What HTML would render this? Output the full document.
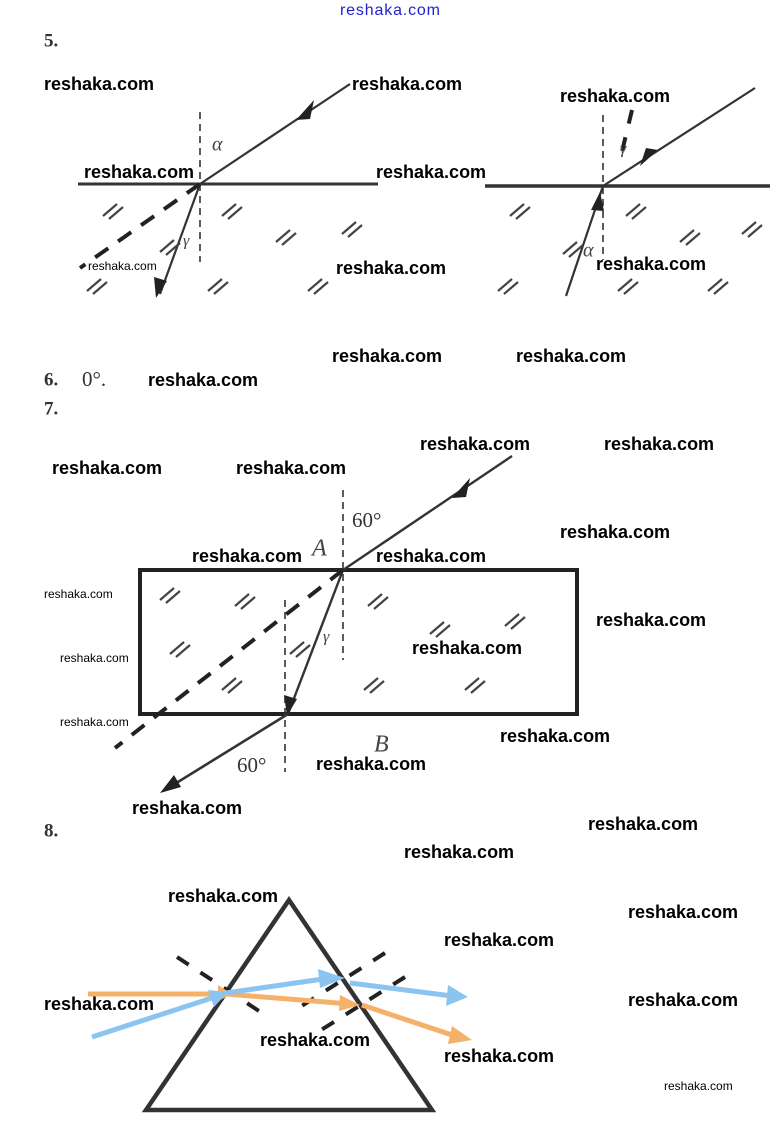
<!DOCTYPE html>
<html><head><meta charset="utf-8"><style>
html,body{margin:0;padding:0;background:#fff;}
svg{display:block}
.w{font-family:"Liberation Sans",sans-serif;font-weight:bold;font-size:18px;fill:#000;dominant-baseline:middle}
.s{font-size:12px;font-weight:normal}
.n{font-family:"Liberation Serif",serif;font-weight:bold;font-size:19px;fill:#333;dominant-baseline:middle}
.g{font-family:"Liberation Serif",serif;font-style:italic;font-size:20px;fill:#444;dominant-baseline:middle}
.r{font-family:"Liberation Serif",serif;font-size:21px;fill:#333;dominant-baseline:middle}
</style></head><body>
<svg width="778" height="1130" viewBox="0 0 778 1130" xmlns="http://www.w3.org/2000/svg">
<defs>
<g id="h" stroke="#444" stroke-width="2.2">
<line x1="-10" y1="6" x2="4" y2="-6"/><line x1="-4" y1="9" x2="10" y2="-3"/>
</g>
<marker id="a" viewBox="0 0 10 10" refX="5" refY="5" markerWidth="6" markerHeight="6" orient="auto"><path d="M0,0L10,5L0,10z" fill="#222"/></marker>
</defs>

<text x="340" y="11" style="font-family:'Liberation Sans Narrow','Liberation Sans',sans-serif;font-size:16px;fill:#22c;dominant-baseline:middle" textLength="100">reshaka.com</text>

<text class="n" x="44" y="42">5.</text>

<!-- Section 5 left -->
<line x1="78" y1="184" x2="378" y2="184" stroke="#333" stroke-width="3"/>
<line x1="200" y1="112" x2="200" y2="262" stroke="#333" stroke-width="1.6" stroke-dasharray="7,5"/>
<line x1="350" y1="84" x2="200" y2="184" stroke="#333" stroke-width="2.2"/>
<path d="M296,120 L314,100 L310,119 z" fill="#222"/>
<line x1="200" y1="184" x2="160" y2="294" stroke="#333" stroke-width="2.2"/>
<path d="M156,298 L154,277 L167,281 z" fill="#222"/>
<line x1="200" y1="184" x2="80" y2="268" stroke="#222" stroke-width="4" stroke-dasharray="16,12"/>
<text class="g" x="212" y="146">α</text>
<text class="g" x="183" y="242" style="font-size:16px">γ</text>
<use href="#h" x="113" y="210"/><use href="#h" x="170" y="246"/><use href="#h" x="232" y="210"/><use href="#h" x="286" y="236"/><use href="#h" x="352" y="228"/><use href="#h" x="97" y="285"/><use href="#h" x="218" y="285"/><use href="#h" x="318" y="285"/>

<!-- Section 5 right -->
<line x1="485" y1="186" x2="770" y2="186" stroke="#333" stroke-width="3.5"/>
<line x1="603" y1="115" x2="603" y2="260" stroke="#333" stroke-width="1.6" stroke-dasharray="7,5"/>
<line x1="603" y1="186" x2="755" y2="88" stroke="#333" stroke-width="2.2"/>
<path d="M658,150 L640,166 L646,148 z" fill="#222"/>
<line x1="566" y1="296" x2="603" y2="186" stroke="#333" stroke-width="2.2"/>
<path d="M600,192 L591,210 L604,211 z" fill="#222"/>
<line x1="632" y1="110" x2="620" y2="160" stroke="#222" stroke-width="4" stroke-dasharray="14,14"/>
<text class="g" x="620" y="150" style="font-size:16px">γ</text>
<text class="g" x="583" y="252">α</text>
<use href="#h" x="520" y="210"/><use href="#h" x="636" y="210"/><use href="#h" x="690" y="236"/><use href="#h" x="752" y="228"/><use href="#h" x="573" y="248"/><use href="#h" x="508" y="285"/><use href="#h" x="628" y="285"/><use href="#h" x="718" y="285"/>

<text class="n" x="44" y="381">6.</text>
<text class="r" x="82" y="381">0°.</text>
<text class="n" x="44" y="410">7.</text>

<!-- Section 7 -->
<rect x="140" y="570" width="437" height="144" fill="none" stroke="#222" stroke-width="4"/>
<line x1="343" y1="490" x2="343" y2="660" stroke="#333" stroke-width="1.6" stroke-dasharray="7,5"/>
<line x1="285" y1="600" x2="285" y2="772" stroke="#333" stroke-width="1.6" stroke-dasharray="7,5"/>
<line x1="512" y1="456" x2="343" y2="570" stroke="#333" stroke-width="2.4"/>
<path d="M452,498 L470,478 L466,497 z" fill="#222"/>
<line x1="343" y1="570" x2="288" y2="714" stroke="#333" stroke-width="2.4"/>
<path d="M287,716 L284,695 L297,699 z" fill="#222"/>
<line x1="288" y1="714" x2="165" y2="790" stroke="#333" stroke-width="2.6"/>
<path d="M160,793 L174,775 L181,787 z" fill="#222"/>
<line x1="343" y1="570" x2="115" y2="748" stroke="#222" stroke-width="4" stroke-dasharray="16,12"/>
<text class="r" x="352" y="522">60°</text>
<text class="g" x="312" y="550" style="font-size:24px">A</text>
<text class="g" x="323" y="638" style="font-size:16px">γ</text>
<text class="r" x="237" y="767">60°</text>
<text class="g" x="374" y="746" style="font-size:24px">B</text>
<use href="#h" x="170" y="594"/><use href="#h" x="245" y="600"/><use href="#h" x="378" y="600"/><use href="#h" x="440" y="628"/><use href="#h" x="515" y="620"/><use href="#h" x="180" y="648"/><use href="#h" x="300" y="648"/><use href="#h" x="232" y="684"/><use href="#h" x="374" y="684"/><use href="#h" x="475" y="684"/>

<text class="n" x="44" y="832">8.</text>

<!-- Section 8 -->
<polygon points="289,900 146,1110 432,1110" fill="none" stroke="#333" stroke-width="4.5" stroke-linejoin="miter"/>
<line x1="177" y1="957" x2="262" y2="1013" stroke="#222" stroke-width="4" stroke-dasharray="14,14"/>
<line x1="385" y1="953" x2="300" y2="1007" stroke="#222" stroke-width="4" stroke-dasharray="14,14"/>
<line x1="405" y1="977" x2="318" y2="1032" stroke="#222" stroke-width="4" stroke-dasharray="14,14"/>
<g stroke="#f5b16a" stroke-width="5" fill="none">
<polyline points="88,994 226,994 350,1004"/>
<line x1="362" y1="1005" x2="455" y2="1036"/>
</g>
<path d="M218,985 L232,994 L218,1001 z" fill="#f5b16a"/>
<path d="M340,995 L360,1005 L339,1011 z" fill="#f5b16a"/>
<path d="M452,1026 L472,1040 L448,1044 z" fill="#f5b16a"/>
<g stroke="#8cc4f0" stroke-width="5" fill="none">
<line x1="92" y1="1037" x2="218" y2="996"/>
<polyline points="226,993 330,978"/>
<line x1="350" y1="983" x2="452" y2="996"/>
</g>
<path d="M208,990 L228,992 L214,1007 z" fill="#8cc4f0"/>
<path d="M318,969 L345,978 L320,988 z" fill="#8cc4f0"/>
<path d="M448,985 L468,997 L446,1006 z" fill="#8cc4f0"/>

<!-- watermarks -->
<text class="w" x="44" y="85">reshaka.com</text>
<text class="w" x="352" y="85">reshaka.com</text>
<text class="w" x="560" y="97">reshaka.com</text>
<text class="w" x="84" y="173">reshaka.com</text>
<text class="w" x="376" y="173">reshaka.com</text>
<text class="w s" x="88" y="267">reshaka.com</text>
<text class="w" x="336" y="269">reshaka.com</text>
<text class="w" x="596" y="265">reshaka.com</text>
<text class="w" x="332" y="357">reshaka.com</text>
<text class="w" x="516" y="357">reshaka.com</text>
<text class="w" x="148" y="381">reshaka.com</text>
<text class="w" x="420" y="445">reshaka.com</text>
<text class="w" x="604" y="445">reshaka.com</text>
<text class="w" x="52" y="469">reshaka.com</text>
<text class="w" x="236" y="469">reshaka.com</text>
<text class="w" x="560" y="533">reshaka.com</text>
<text class="w" x="192" y="557">reshaka.com</text>
<text class="w" x="376" y="557">reshaka.com</text>
<text class="w s" x="44" y="595">reshaka.com</text>
<text class="w" x="596" y="621">reshaka.com</text>
<text class="w" x="412" y="649">reshaka.com</text>
<text class="w s" x="60" y="659">reshaka.com</text>
<text class="w s" x="60" y="723">reshaka.com</text>
<text class="w" x="500" y="737">reshaka.com</text>
<text class="w" x="316" y="765">reshaka.com</text>
<text class="w" x="132" y="809">reshaka.com</text>
<text class="w" x="588" y="825">reshaka.com</text>
<text class="w" x="404" y="853">reshaka.com</text>
<text class="w" x="168" y="897">reshaka.com</text>
<text class="w" x="628" y="913">reshaka.com</text>
<text class="w" x="444" y="941">reshaka.com</text>
<text class="w" x="44" y="1005">reshaka.com</text>
<text class="w" x="628" y="1001">reshaka.com</text>
<text class="w" x="260" y="1041">reshaka.com</text>
<text class="w" x="444" y="1057">reshaka.com</text>
<text class="w s" x="664" y="1087">reshaka.com</text>
</svg>
</body></html>
